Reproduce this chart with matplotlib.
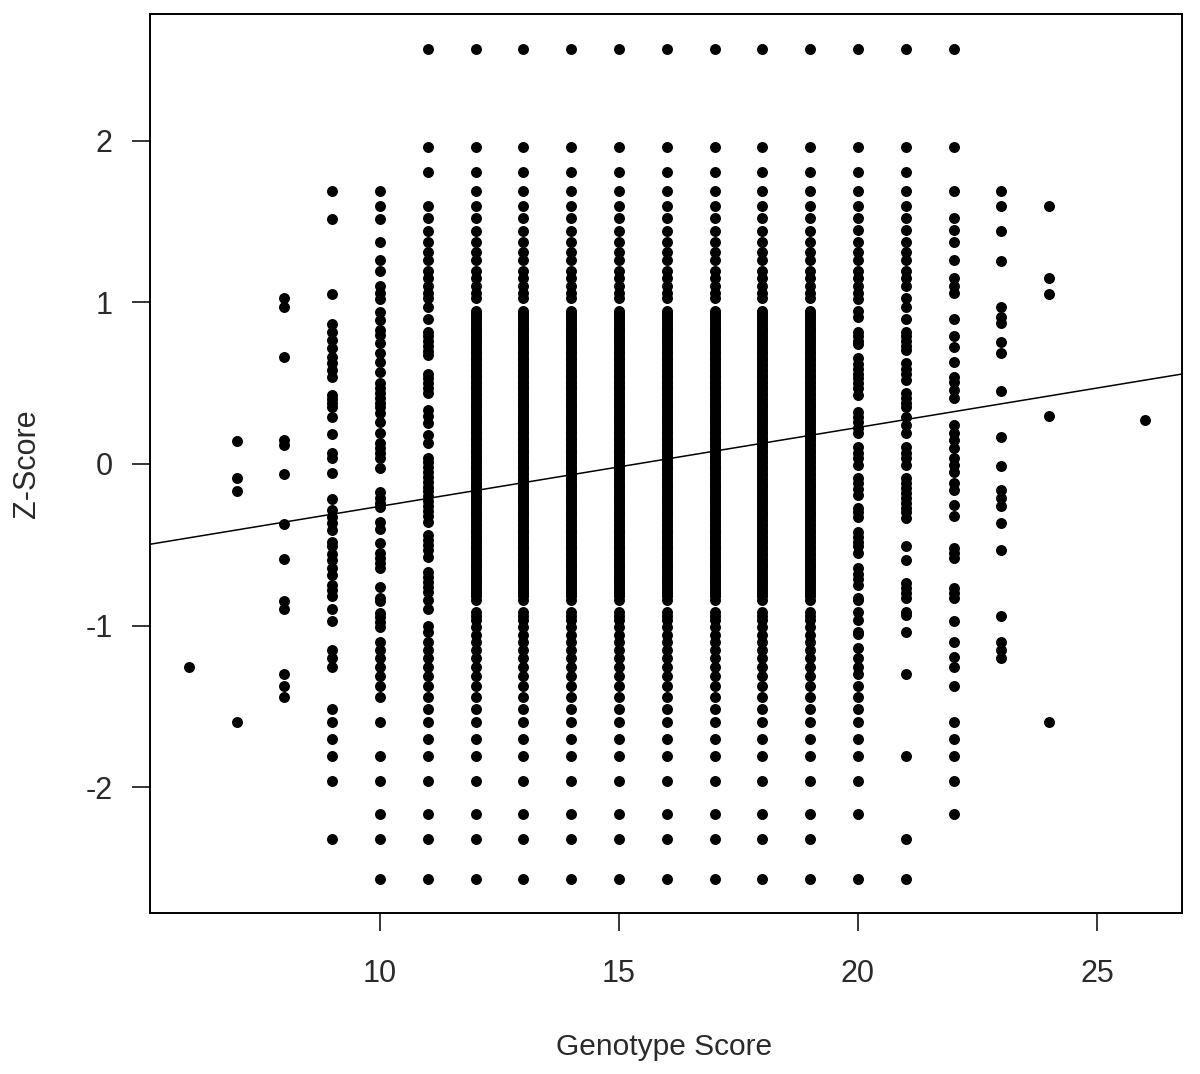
import matplotlib
matplotlib.use('Agg')
import matplotlib.pyplot as plt

# Z-score levels, one list per genotype score
top_ladder = [2.57, 1.96, 1.81, 1.69, 1.60, 1.52, 1.44, 1.375, 1.31, 1.26, 1.195, 1.15, 1.10, 1.06, 1.03]
core_run = [0.95, 0.935, 0.92, 0.905, 0.89, 0.875, 0.86, 0.845, 0.83, 0.815, 0.80, 0.785, 0.77, 0.755,
            0.74, 0.725, 0.71, 0.695, 0.68, 0.665, 0.65, 0.635, 0.62, 0.605, 0.59, 0.575, 0.56, 0.545,
            0.53, 0.515, 0.50, 0.485, 0.47, 0.455, 0.44, 0.425, 0.41, 0.395, 0.38, 0.365, 0.35, 0.335,
            0.32, 0.305, 0.29, 0.275, 0.26, 0.245, 0.23, 0.215, 0.20, 0.185, 0.17, 0.155, 0.14, 0.125,
            0.11, 0.095, 0.08, 0.065, 0.05, 0.035, 0.02, 0.005, -0.01, -0.025, -0.04, -0.055, -0.07,
            -0.085, -0.10, -0.115, -0.13, -0.145, -0.16, -0.175, -0.19, -0.205, -0.22, -0.235, -0.25,
            -0.265, -0.28, -0.295, -0.31, -0.325, -0.34, -0.355, -0.37, -0.385, -0.40, -0.415, -0.43,
            -0.445, -0.46, -0.475, -0.49, -0.505, -0.52, -0.535, -0.55, -0.565, -0.58, -0.595, -0.61,
            -0.625, -0.64, -0.655, -0.67, -0.685, -0.70, -0.715, -0.73, -0.745, -0.76, -0.775, -0.79,
            -0.805, -0.82, -0.84]
low_ladder = [-0.915, -0.94, -0.965, -1.01, -1.06, -1.10, -1.15, -1.20, -1.26, -1.31, -1.375, -1.44, -1.52,
              -1.60, -1.70, -1.81, -1.96, -2.17, -2.32, -2.57]
full_column = top_ladder + core_run + low_ladder

score_6 = [-1.26]
score_7 = [0.14, -0.085, -0.165, -1.60]
score_8 = [1.03, 0.97, 0.66, 0.15, 0.12, -0.06, -0.37, -0.59, -0.85, -0.90, -1.30, -1.375, -1.44]
score_9 = [1.69, 1.515, 1.05, 0.865, 0.82, 0.77, 0.72, 0.66, 0.625, 0.58, 0.54, 0.43, 0.40, 0.38, 0.35,
           0.29, 0.186, 0.07, 0.04, -0.056, -0.217, -0.285, -0.33, -0.365, -0.41, -0.48, -0.51, -0.56,
           -0.595, -0.645, -0.69, -0.75, -0.78, -0.82, -0.90, -0.97, -1.15, -1.20, -1.26, -1.52, -1.60,
           -1.70, -1.81, -1.96, -2.32]
score_10 = [1.69, 1.60, 1.515, 1.375, 1.26, 1.195, 1.10, 1.06, 1.02, 0.94, 0.89, 0.83, 0.80, 0.75, 0.69,
            0.63, 0.57, 0.50, 0.47, 0.44, 0.41, 0.38, 0.35, 0.315, 0.26, 0.19, 0.13, 0.10, 0.07, 0.04,
            -0.025, -0.175, -0.21, -0.24, -0.265, -0.36, -0.40, -0.49, -0.55, -0.58, -0.61, -0.645, -0.76,
            -0.83, -0.85, -0.92, -0.95, -0.98, -1.01, -1.10, -1.15, -1.20, -1.26, -1.31, -1.375, -1.44,
            -1.60, -1.81, -1.96, -2.17, -2.32, -2.57]
score_11 = [2.57, 1.96, 1.81, 1.60, 1.52, 1.44, 1.375, 1.31, 1.26, 1.195, 1.15, 1.10, 1.06, 1.03, 0.97,
            0.90, 0.82, 0.79, 0.76, 0.73, 0.70, 0.675, 0.56, 0.53, 0.50, 0.47, 0.44, 0.335, 0.30, 0.255,
            0.18, 0.13, 0.04, 0.01, -0.02, -0.05, -0.08, -0.11, -0.14, -0.17, -0.20, -0.23, -0.26, -0.29,
            -0.32, -0.36, -0.44, -0.47, -0.50, -0.53, -0.575, -0.67, -0.70, -0.73, -0.76, -0.79, -0.84,
            -0.90, -1.00, -1.04, -1.10, -1.15, -1.20, -1.26, -1.31, -1.375, -1.44, -1.52, -1.60, -1.70,
            -1.81, -1.96, -2.17, -2.32, -2.57]
score_20 = [2.57, 1.96, 1.81, 1.69, 1.60, 1.52, 1.45, 1.375, 1.31, 1.26, 1.195, 1.15, 1.10, 1.06, 1.02,
            0.95, 0.91, 0.82, 0.79, 0.76, 0.74, 0.655, 0.62, 0.59, 0.56, 0.53, 0.50, 0.47, 0.43, 0.32,
            0.29, 0.26, 0.22, 0.19, 0.105, 0.07, 0.04, -0.005, -0.085, -0.12, -0.155, -0.19, -0.27, -0.30,
            -0.33, -0.42, -0.45, -0.48, -0.51, -0.55, -0.645, -0.68, -0.71, -0.75, -0.83, -0.845, -0.915,
            -0.965, -1.04, -1.05, -1.14, -1.20, -1.26, -1.30, -1.375, -1.44, -1.52, -1.60, -1.70, -1.81,
            -1.96, -2.17, -2.57]
score_21 = [2.57, 1.96, 1.81, 1.69, 1.60, 1.52, 1.45, 1.375, 1.31, 1.26, 1.195, 1.15, 1.10, 1.03, 0.97,
            0.90, 0.82, 0.79, 0.76, 0.73, 0.705, 0.625, 0.59, 0.56, 0.52, 0.44, 0.41, 0.38, 0.35, 0.29,
            0.24, 0.19, 0.105, 0.07, 0.04, -0.005, -0.085, -0.12, -0.15, -0.18, -0.21, -0.24, -0.27, -0.30,
            -0.335, -0.51, -0.595, -0.735, -0.77, -0.80, -0.83, -0.915, -0.935, -1.04, -1.30, -1.81, -2.32,
            -2.57]
score_22 = [2.57, 1.96, 1.69, 1.52, 1.45, 1.375, 1.26, 1.15, 1.10, 1.06, 0.90, 0.79, 0.725, 0.63, 0.54,
            0.51, 0.46, 0.41, 0.24, 0.19, 0.15, 0.10, 0.04, -0.005, -0.05, -0.12, -0.16, -0.255, -0.32,
            -0.52, -0.55, -0.58, -0.77, -0.80, -0.83, -0.97, -1.10, -1.195, -1.26, -1.375, -1.60, -1.70,
            -1.81, -1.96, -2.17]
score_23 = [1.69, 1.60, 1.445, 1.257, 0.97, 0.91, 0.87, 0.755, 0.69, 0.45, 0.165, -0.015, -0.16, -0.21,
            -0.26, -0.365, -0.53, -0.94, -1.10, -1.15, -1.20]
score_24 = [1.60, 1.15, 1.05, 0.295, -1.60]
score_26 = [0.27]

columns = {6: score_6, 7: score_7, 8: score_8, 9: score_9, 10: score_10, 11: score_11,
           12: full_column, 13: full_column, 14: full_column, 15: full_column, 16: full_column,
           17: full_column, 18: full_column, 19: full_column,
           20: score_20, 21: score_21, 22: score_22, 23: score_23, 24: score_24, 26: score_26}

# regression line ends, at the edges of the plot
line_x = [5.19, 26.78]
line_y = [-0.497, 0.557]

x_ticks = [10, 15, 20, 25]
y_ticks = [-2, -1, 0, 1, 2]

plt.rcParams['font.family'] = ['Liberation Sans', 'DejaVu Sans']
plt.rcParams['axes.unicode_minus'] = False
text_color = '#2a2a2a'

fig = plt.figure(figsize=(12, 10.74), dpi=100)
ax = fig.add_axes([150 / 1200, 1 - 913 / 1074, 1032 / 1200, 899 / 1074])

for score, values in columns.items():
    ax.plot([score] * len(values), values, 'o', color='black', ms=7.9, mew=0, clip_on=False)
ax.plot(line_x, line_y, color='black', lw=1.1)

ax.set_xlim(5.19, 26.78)
ax.set_ylim(-2.78, 2.786)
ax.set_xticks(x_ticks)
ax.set_yticks(y_ticks)
ax.tick_params(axis='x', length=13, width=1.1, pad=20, labelsize=22, labelcolor=text_color)
ax.tick_params(axis='y', length=13, width=1.1, pad=14, labelsize=22, labelcolor=text_color)
for spine in ax.spines.values():
    spine.set_linewidth(1.4)

# axis titles sit at fixed spots in the figure
fig.text(664 / 1200, 1 - 1047 / 1074, 'Genotype Score', ha='center', va='center', fontsize=21.5, color=text_color)
fig.text(27 / 1200, 1 - 464 / 1074, 'Z-Score', ha='center', va='center', rotation=90, fontsize=22, color=text_color)

fig.savefig('out.png', dpi=100)
